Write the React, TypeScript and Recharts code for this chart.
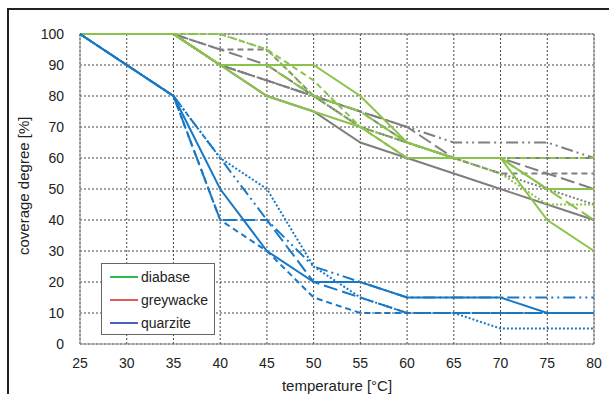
import React from 'react';
import {
  CartesianGrid,
  Line,
  LineChart,
  ReferenceArea,
  XAxis,
  YAxis,
} from 'recharts';

const temps = [25, 30, 35, 40, 45, 50, 55, 60, 65, 70, 75, 80];
const xTicks = temps;
const yTicks = [0, 10, 20, 30, 40, 50, 60, 70, 80, 90, 100];

// diabase (green)
const g1 = [100, 100, 100, 90, 90, 90, 80, 65, 60, 60, 50, 50];
const g2 = [100, 100, 100, 90, 80, 75, 70, 60, 60, 60, 40, 30];
const g3 = [100, 100, 100, 100, 95, 85, 70, 60, 60, 60, 60, 60];
const g4 = [100, 100, 100, 90, 90, 80, 75, 65, 60, 60, 50, 40];
const g5 = [100, 100, 100, 100, 95, 80, 70, 65, 60, 55, 45, 45];

// greywacke (grey)
const r1 = [100, 100, 100, 90, 80, 75, 65, 60, 55, 50, 45, 40];
const r2 = [100, 100, 100, 95, 90, 80, 75, 70, 60, 60, 60, 60];
const r3 = [100, 100, 100, 95, 95, 80, 75, 65, 60, 55, 55, 55];
const r4 = [100, 100, 100, 90, 85, 80, 70, 65, 60, 60, 55, 50];
const r5 = [100, 100, 100, 90, 85, 80, 75, 70, 65, 65, 65, 60];
const r6 = [100, 100, 100, 90, 85, 80, 70, 65, 60, 55, 50, 45];

// quarzite (blue)
const q1 = [100, 90, 80, 50, 30, 20, 20, 15, 15, 15, 10, 10];
const q2 = [100, 90, 80, 40, 40, 20, 15, 10, 10, 10, 10, 10];
const q3 = [100, 90, 80, 60, 40, 25, 20, 15, 15, 15, 15, 15];
const q4 = [100, 90, 80, 60, 50, 25, 15, 10, 10, 5, 5, 5];
const q5 = [100, 90, 80, 40, 30, 15, 10, 10, 10, 10, 10, 10];

const seriesArrays: Record<string, number[]> = { g1, g2, g3, g4, g5, r1, r2, r3, r4, r5, r6, q1, q2, q3, q4, q5 };

const data = temps.map((t, i) => {
  const row: Record<string, number> = { t };
  Object.keys(seriesArrays).forEach((k) => {
    row[k] = seriesArrays[k][i];
  });
  return row;
});

const GREEN = '#8bc34a';
const GREY = '#7f7f7f';
const BLUE = '#1878c6';

const SOLID = undefined;
const DASH = '6 4';
const LONGDASH = '14 5';
const DOT = '2 2';
const DASHDOT = '12 4 2 4 2 4';

const lines = [
  { key: 'r1', color: GREY, dash: SOLID },
  { key: 'r2', color: GREY, dash: LONGDASH },
  { key: 'r3', color: GREY, dash: DASH },
  { key: 'r4', color: GREY, dash: LONGDASH },
  { key: 'r5', color: GREY, dash: DASHDOT },
  { key: 'r6', color: GREY, dash: DOT },
  { key: 'g1', color: GREEN, dash: SOLID },
  { key: 'g2', color: GREEN, dash: SOLID },
  { key: 'g3', color: GREEN, dash: DASH },
  { key: 'g4', color: GREEN, dash: LONGDASH },
  { key: 'g5', color: GREEN, dash: DOT },
  { key: 'q5', color: BLUE, dash: DASH },
  { key: 'q4', color: BLUE, dash: DOT },
  { key: 'q3', color: BLUE, dash: DASHDOT },
  { key: 'q2', color: BLUE, dash: LONGDASH },
  { key: 'q1', color: BLUE, dash: SOLID },
];

const legendItems = [
  { value: 'diabase', color: '#2dbb4e' },
  { value: 'greywacke', color: '#e05a5a' },
  { value: 'quarzite', color: '#4a5fc0' },
];

const LegendBox = () => (
  <div
    style={{
      position: 'absolute',
      left: 101,
      top: 263,
      border: '1px solid #666',
      background: '#fff',
      width: 114,
      height: 72,
      padding: '1px 0 0 8px',
      boxSizing: 'border-box',
    }}
  >
    {legendItems.map((it) => (
      <div key={it.value} style={{ display: 'flex', alignItems: 'center', height: 23 }}>
        <span style={{ display: 'inline-block', width: 28, height: 2, background: it.color, marginRight: 3 }} />
        <span style={{ fontSize: 14, color: '#222' }}>{it.value}</span>
      </div>
    ))}
  </div>
);

export default function App() {
  return (
    <div style={{ position: 'absolute', left: 0, top: 0, width: 609, height: 394, overflow: 'hidden', background: '#fff', fontFamily: '"Liberation Sans", Arial, sans-serif' }}>
      <div style={{ position: 'absolute', left: 7, top: 8, width: 640, height: 420, border: '2px solid #222' }} />
      <LineChart width={609} height={394} data={data} margin={{ top: 34, right: 15, left: 0, bottom: 0 }}>
        <CartesianGrid stroke="#444" strokeDasharray="2 2" strokeWidth={1} />
        <XAxis
          dataKey="t"
          type="number"
          domain={[25, 80]}
          ticks={xTicks}
          height={50}
          axisLine={false}
          tickLine={false}
          tickMargin={8}
          tick={{ fontSize: 14, fill: '#222' }}
          label={{ value: 'temperature [°C]', position: 'insideBottom', offset: 3, fontSize: 15, fill: '#222' }}
        />
        <YAxis
          type="number"
          domain={[0, 100]}
          ticks={yTicks}
          width={80}
          axisLine={false}
          tickLine={false}
          tickMargin={10}
          tick={{ fontSize: 14, fill: '#222' }}
          label={{ value: 'coverage degree [%]', angle: -90, position: 'insideLeft', offset: 24, dy: 66, fontSize: 15, fill: '#222' }}
        />
        <ReferenceArea x1={25} x2={80} y1={0} y2={100} fill="none" stroke="#888" strokeWidth={1} />
        {lines.map((l) => (
          <Line
            key={l.key}
            dataKey={l.key}
            stroke={l.color}
            strokeWidth={2}
            strokeDasharray={l.dash}
            dot={false}
            activeDot={false}
            legendType="none"
            isAnimationActive={false}
          />
        ))}
      </LineChart>
      <LegendBox />
    </div>
  );
}
